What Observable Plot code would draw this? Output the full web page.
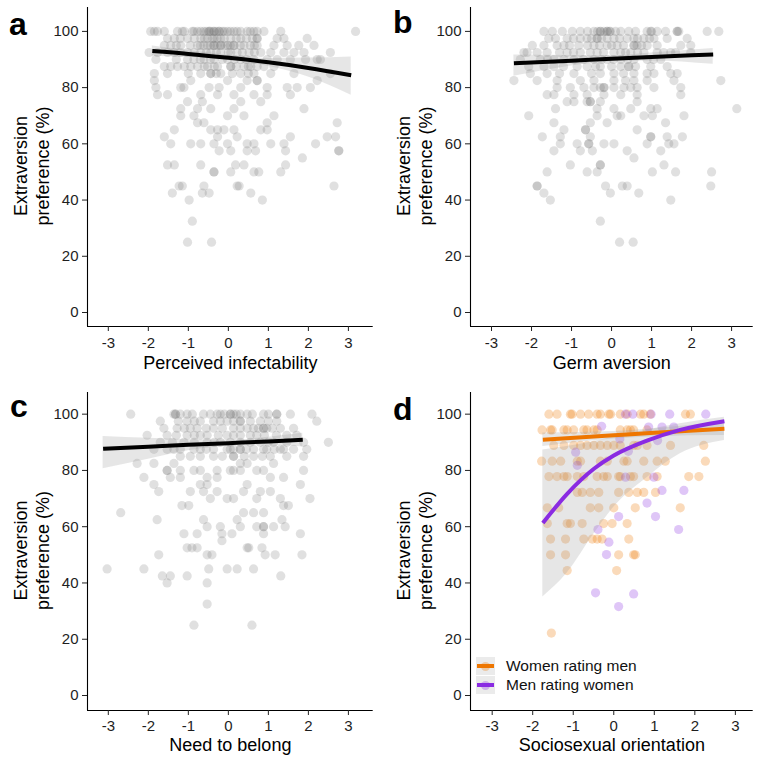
<!DOCTYPE html>
<html>
<head>
<meta charset="utf-8">
<script src="https://cdn.jsdelivr.net/npm/d3@7"></script>
<script src="https://cdn.jsdelivr.net/npm/@observablehq/plot@0.6"></script>
<style>
  html, body { margin: 0; padding: 0; background: #fff; }
  #fig { position: relative; width: 761px; height: 761px; background: #fff; font-family: "Liberation Sans", Arial, sans-serif; }
  .panel { position: absolute; }
  .tag { position: absolute; font-weight: bold; font-size: 32px; line-height: 32px; color: #000; }
  .legend { position: absolute; left: 476px; top: 656px; font-size: 15.5px; color: #111; }
  .legend .row { display: flex; align-items: center; height: 19.5px; }
  .legend .key { position: relative; width: 19px; height: 18px; background: #ebebeb; margin-right: 11px; }
  .legend .key .dot { position: absolute; left: 5px; top: 5px; width: 9px; height: 9px; border-radius: 50%; opacity: 0.3; }
  .legend .key .bar { position: absolute; left: 1px; right: 1px; top: 7px; height: 4px; }
</style>
</head>
<body>
<div id="fig">
  <div class="panel" id="pa" style="left:0;top:0"></div>
  <div class="panel" id="pb" style="left:380px;top:0"></div>
  <div class="panel" id="pc" style="left:0;top:380px"></div>
  <div class="panel" id="pd" style="left:380px;top:380px"></div>
  <div class="tag" style="left:9px;top:8px">a</div>
  <div class="tag" style="left:393px;top:6px">b</div>
  <div class="tag" style="left:10px;top:390px">c</div>
  <div class="tag" style="left:393px;top:393px">d</div>
  <div class="legend" id="legend"></div>
</div>
<script>
// Axis ticks shared by all four panels
const xTicks = [-3, -2, -1, 0, 1, 2, 3];
const yTicks = [0, 20, 40, 60, 80, 100];
const yTitle = "Extraversion\npreference (%)";

// Panel a: perceived infectability — rows of [preference %, trait scores]
const infectRows = [
  [100, [-1.94,-1.85,-1.77,-1.60,-1.27,-1.15,-1.10,-0.90,-0.86,-0.77,-0.69,-0.61,-0.55,-0.48,-0.48,-0.44,-0.36,-0.36,-0.30,-0.23,-0.23,-0.15,-0.10,-0.02,0.05,0.14,0.22,0.31,0.47,0.55,0.64,0.72,0.89,1.31,3.18]],
  [97.5, [-1.52,-1.35,-1.20,-1.02,-0.85,-0.69,-0.60,-0.52,-0.40,-0.36,-0.28,-0.19,-0.10,0.06,0.20,0.31,0.45,0.60,0.72,0.72,1.22,1.39,1.97]],
  [95, [-1.60,-1.44,-1.30,-1.19,-0.95,-0.77,-0.70,-0.61,-0.52,-0.45,-0.36,-0.36,-0.28,-0.19,-0.19,-0.08,-0.02,0.05,0.14,0.14,0.30,0.39,0.55,0.65,0.72,1.14,1.47,1.76,2.14]],
  [92.5, [-1.98,-1.77,-1.52,-1.35,-1.20,-1.02,-0.85,-0.69,-0.55,-0.44,-0.30,-0.19,0.00,0.06,0.22,0.35,0.52,0.65,0.81,1.06,1.39,1.64,1.89,2.55]],
  [90, [-1.81,-1.30,-1.02,-0.86,-0.70,-0.61,-0.45,-0.36,-0.15,-0.02,0.15,0.31,0.45,0.64,0.97,1.22,1.55,1.93,2.22,2.30]],
  [87.5, [-1.60,-1.44,-1.27,-1.10,-0.94,-0.77,-0.60,-0.52,-0.35,-0.27,0.06,0.06,0.20,0.39,0.50,0.56,0.72,0.89,1.14]],
  [85, [-1.85,-1.52,-1.00,-0.69,-0.44,-0.44,-0.30,-0.19,0.10,0.31,0.50,0.64,1.06,1.64,2.55]],
  [82.5, [-1.85,-0.94,-0.02,0.47,0.72,0.72,2.22]],
  [80, [-1.81,-1.19,-1.11,-0.48,-0.23,0.31,0.97,1.47,1.72,2.05]],
  [77.5, [-1.77,-1.52,-0.69,-0.27,0.14,0.64,0.97,1.55]],
  [75, [-1.02,-0.65,0.31,0.81]],
  [72.5, [-1.19,-0.77,-0.44,0.14,1.89]],
  [70, [-1.19,-0.86,-0.02,0.39,1.14]],
  [67.5, [-0.77,-0.61,0.97,2.72]],
  [65, [-1.35,-0.44,-0.27,-0.11,0.14,0.81,0.97]],
  [62.5, [-1.60,-0.27,0.22,1.55,2.47,2.68]],
  [60, [-1.44,-0.94,-0.69,-0.36,-0.02,0.47,0.64,1.06,1.39,2.18]],
  [57.5, [-0.23,0.06,0.47,0.68,1.43,2.76,2.76]],
  [55, [1.85]],
  [52.5, [-1.52,-1.35,-0.69,0.18,0.39,1.43]],
  [50, [-0.36,-0.36,0.06,0.64,0.76,1.31]],
  [45, [-1.23,-1.15,-0.61,0.22,0.27,2.64]],
  [42.5, [-1.40,-0.65,-0.48,0.56]],
  [40, [-0.98,0.85]],
  [32.5, [-0.90]],
  [25, [-1.02,-0.42]]
];
const infectFitX  = [-1.9, -1, 0, 1, 2, 3.07];
const infectFitY  = [93.0, 92.0, 90.6, 89.0, 87.0, 84.4];
const infectFitLo = [91.2, 90.8, 89.7, 87.6, 83.8, 77.3];
const infectFitHi = [94.8, 93.2, 91.5, 90.4, 90.5, 90.9];

// Panel b: germ aversion
const germRows = [
  [100, [-1.69,-1.48,-1.23,-0.98,-0.78,-0.60,-0.44,-0.35,-0.28,-0.28,-0.19,-0.11,-0.11,-0.05,-0.03,0.10,0.23,0.43,0.60,0.89,0.98,1.00,1.14,1.35,1.64,1.64,1.68,2.39,2.68]],
  [97.5, [-1.57,-1.40,-1.11,-0.95,-0.78,-0.61,-0.50,-0.36,-0.36,-0.25,-0.11,0.06,0.20,0.39,0.56,0.65,0.81,0.95,1.06,1.39,1.89]],
  [95, [-1.98,-1.69,-1.36,-1.19,-1.05,-0.82,-0.60,-0.44,-0.30,-0.11,0.00,0.14,0.30,0.56,0.56,0.64,0.75,0.89,1.14,1.73,1.98]],
  [92.5, [-2.19,-2.11,-1.86,-1.61,-1.30,-1.11,-0.95,-0.78,-0.53,-0.36,-0.20,0.06,0.23,0.35,0.48,0.65,0.81,1.14,1.30,1.48,1.60,1.98]],
  [90, [-2.28,-1.78,-1.60,-1.44,-1.19,-0.94,-0.70,-0.44,-0.25,-0.11,0.05,0.23,0.40,0.56,0.89,1.05,1.23]],
  [87.5, [-2.07,-1.69,-1.44,-1.20,-0.86,-0.61,-0.40,-0.28,0.00,0.23,0.43,0.43,0.60,0.98,1.39]],
  [85, [-2.03,-1.61,-1.30,-0.94,-0.50,-0.28,0.06,0.30,0.56,0.89,1.06,1.48,1.64]],
  [82.5, [-2.44,-1.86,-1.36,-0.78,-0.44,0.06,0.35,0.56,0.89,1.56,2.73]],
  [80, [-1.36,-1.03,-0.69,-0.44,-0.28,-0.19,-0.19,0.06,0.31,0.48,0.64,1.06,1.73]],
  [77.5, [-1.61,-1.44,-0.94,-0.61,-0.19,0.23,0.64,1.73]],
  [75, [-1.11,-0.94,-0.61,-0.53,-0.53,-0.28,0.64]],
  [72.5, [-1.40,-0.36,0.06,0.48,0.98,1.14,3.13]],
  [70, [-2.07,-0.36,0.14,0.23,0.81,1.02,1.81]],
  [67.5, [-1.44,-0.53,-0.11,1.35]],
  [65, [-1.19,-0.65,-0.65,0.64]],
  [62.5, [-1.73,-1.28,-0.53,0.98,0.98,1.39,1.77]],
  [60, [-1.28,-0.86,-0.57,-0.57,-0.19,0.06,0.89,1.43,1.56]],
  [57.5, [-1.44,-0.78,-0.48,0.39,1.23]],
  [55, [0.56]],
  [52.5, [-1.03,-0.28,-0.28,1.31]],
  [50, [-1.61,-0.61,-0.36,1.02,1.60,2.50]],
  [45, [-1.86,-1.86,-0.15,0.27,0.39,2.48]],
  [42.5, [-1.69,-0.03,0.68]],
  [40, [-1.53,1.48]],
  [32.5, [-0.28]],
  [25, [0.20,0.54]]
];
const germFitX  = [-2.44, -1, 0, 1, 2.54];
const germFitY  = [88.7, 89.6, 90.3, 90.9, 91.8];
const germFitLo = [84.0, 87.7, 89.2, 89.5, 88.3];
const germFitHi = [91.6, 91.4, 91.3, 92.3, 93.9];

// Panel c: need to belong
const belongRows = [
  [100, [-2.44,-1.36,-1.32,-1.32,-1.20,-1.03,-0.90,-0.62,-0.45,-0.28,-0.20,-0.10,0.05,0.05,0.13,0.20,0.30,0.47,0.60,0.88,1.00,1.21,1.21,1.55,2.09]],
  [97.5, [-1.70,-1.25,-1.03,-0.85,-0.70,-0.37,-0.20,-0.03,0.13,0.30,0.30,0.55,0.80,1.00,1.21,2.21]],
  [95, [-1.61,-1.28,-1.10,-0.95,-0.78,-0.55,-0.37,-0.15,0.13,0.30,0.47,0.63,0.75,0.88,0.88,0.96,1.10,1.30,1.63]],
  [92.5, [-2.03,-1.53,-1.30,-1.03,-0.85,-0.70,-0.53,-0.25,-0.03,0.13,0.30,0.55,0.71,0.90,1.20,1.46,1.71]],
  [90, [-1.70,-1.40,-1.11,-0.85,-0.53,-0.35,-0.20,0.05,0.30,0.55,0.80,1.00,1.13,1.46,1.88,2.50]],
  [87.5, [-1.86,-1.53,-1.36,-1.20,-0.86,-0.70,-0.55,-0.37,-0.03,0.05,0.13,0.30,0.30,0.45,0.63,0.88,0.96,1.15,1.30,1.38,1.63,1.96]],
  [85, [-1.20,-0.95,-0.70,-0.37,-0.15,0.13,0.13,0.40,0.63,0.85,1.05,1.46,1.88]],
  [82.5, [-2.28,-1.86,-1.36,0.30,0.47,1.13]],
  [80, [-1.53,-1.53,-1.20,-0.86,-0.70,-0.28,0.05,0.13,0.30,0.71,0.88,1.88]],
  [77.5, [-2.11,-1.45,-1.20,-0.53,-0.28,1.05,1.38]],
  [75, [-1.86,-0.70,-0.53,0.47,1.80]],
  [72.5, [-1.74,-0.95,-0.62,-0.28,0.38,0.80,1.05]],
  [70, [-0.45,-0.03,0.13,0.71,1.30,2.04]],
  [67.5, [-1.16,-0.99,1.38,1.50]],
  [65, [-2.69,0.38,0.63,0.88]],
  [62.5, [-1.78,-0.62,0.22,1.34]],
  [60, [-0.53,-0.20,0.30,0.71,0.88,0.88,1.13,1.42]],
  [57.5, [-1.11,-0.78,-0.16,0.09,0.88,1.80]],
  [55, [-0.16]],
  [52.5, [-1.03,-0.91,-0.78,0.47,0.51,0.84]],
  [50, [-1.74,-0.53,-0.41,0.92,1.17,1.84]],
  [45, [-3.03,-2.11,-0.49,-0.03,0.22,0.63]],
  [42.5, [-1.65,-1.45,-1.03,1.31]],
  [40, [-1.53,-0.53]],
  [32.5, [-0.53]],
  [25, [-0.86,0.59]]
];
const belongFitX  = [-3.13, -2, -1, 0, 1, 1.86];
const belongFitY  = [87.7, 88.4, 89.1, 89.7, 90.3, 90.9];
const belongFitLo = [80.6, 84.0, 87.0, 88.6, 89.0, 88.3];
const belongFitHi = [92.1, 91.4, 90.9, 90.8, 91.8, 93.2];

// Panel d: sociosexual orientation, split by rater group
const groups = ["Women rating men", "Men rating women"];
const groupColors = ["#EE7600", "#8A2BE2"];
const womenRows = [
  [100, [-1.60,-1.40,-1.07,-1.03,-0.82,-0.62,-0.41,-0.33,-0.12,-0.08,0.16,0.33,0.66,0.74,0.90,1.77,1.89]],
  [94.4, [-1.77,-1.56,-1.52,-1.23,-1.15,-0.99,-0.74,-0.66,-0.49,-0.41,0.16,0.33,0.41,0.49,0.82]],
  [88.9, [-1.48,-1.23,-0.99,-0.82,-0.66,-0.49,-0.33,-0.16,0.00,0.16,0.49,0.58,0.82,1.40,2.22]],
  [83.3, [-1.78,-1.52,-1.31,-0.90,-0.82,-0.33,-0.16,0.25,0.33,0.74,1.07,1.27,2.26]],
  [77.8, [-1.60,-1.40,-1.23,-1.15,-0.90,-0.74,-0.41,-0.25,-0.16,0.12,0.16,0.41,0.49,0.82,1.07,1.85,2.10]],
  [72.2, [-0.90,-0.78,-0.58,-0.37,0.12,0.37,0.58,0.74,1.03]],
  [66.7, [-1.64,-1.36,-0.58,-0.37,0.00,0.53,1.64]],
  [61.1, [-1.64,-1.15,-1.07,-0.78,-0.25,-0.04,0.33]],
  [55.6, [-1.56,-1.19,-0.74,-0.53,-0.41,-0.29,0.37]],
  [50, [-1.56,-1.19,0.12,0.49,0.53]],
  [44.4, [-1.15,0.07]],
  [22.2, [-1.54]]
];
const menX = [0.29,0.47,0.92,1.38,2.27,-0.30,0.86,1.19,1.48,0.15,1.08,-0.94,0.36,-0.90,0.29,0.99,1.19,1.73,0.82,0.12,1.03,-0.39,1.60,-0.12,-0.18,-0.45,0.49,0.12];
const menY = [100,100,100,100,100,95.7,95.4,95.4,95.4,91.2,90.6,86.5,86.8,81.8,77.6,77.6,72.9,72.9,68.4,63.6,63.6,59,59,54.5,50.1,36.5,36.1,31.6];
const womenFitX  = [-1.75, 0, 1, 2.73];
const womenFitY  = [90.9, 92.5, 93.4, 94.8];
const womenFitLo = [88.5, 91.2, 92.0, 92.4];
const womenFitHi = [93.3, 93.8, 94.8, 97.2];
const menFitX  = [-1.75, -1.15, -0.49, 0, 0.82, 1.64, 2.73];
const menFitY  = [61.3, 71.7, 80.6, 85.3, 90.6, 94.4, 97.5];
const menFitLo = [35.0, 43.5, 57.4, 66.9, 77.4, 85.9, 90.6];
const menFitHi = [87.3, 88.5, 90.3, 92.0, 94.4, 96.6, 98.9];

// Tables built from the arrays above
const fromRows = rows => rows.flatMap(([y, xs]) => xs.map(x => ({x, y})));
const fitTable = (xs, ys, lo, hi) => xs.map((x, i) => ({x, y: ys[i], lo: lo[i], hi: hi[i]}));

const font = `"Liberation Sans", Arial, Helvetica, sans-serif`;

function panel({xDomain, yDomain, top, bottom, height, left, padX, titleDy, xLabel, marks}) {
  return Plot.plot({
    width: 380,
    height,
    marginLeft: left,
    marginRight: 7.3,
    marginTop: top,
    marginBottom: bottom,
    style: {fontFamily: font, fontSize: "15px", color: "#1e1e1e", background: "transparent", overflow: "visible"},
    x: {domain: xDomain, label: null},
    y: {domain: yDomain, label: null},
    marks: [
      ...marks,
      Plot.ruleX([xDomain[0]], {stroke: "#000", strokeWidth: 1.1}),
      Plot.ruleY([yDomain[0]], {stroke: "#000", strokeWidth: 1.1}),
      Plot.axisX({ticks: xTicks, tickFormat: d => String(d), tickSize: 5, tickPadding: padX, label: null, stroke: "#222"}),
      Plot.axisY({ticks: yTicks, tickFormat: d => String(d), tickSize: 5, tickPadding: 4, label: null, stroke: "#222"}),
      Plot.text([xLabel], {text: d => d, frameAnchor: "bottom", lineAnchor: "middle", textAnchor: "middle", dy: titleDy, fontSize: 18, fill: "#000"}),
      Plot.text([yTitle], {text: d => d, frameAnchor: "left", textAnchor: "middle", lineAnchor: "middle", rotate: -90, dx: -57, dy: -1, fontSize: 18, lineHeight: 1.22, fill: "#000"})
    ]
  });
}

function greyMarks(rows, fit) {
  return [
    Plot.dot(fromRows(rows), {x: "x", y: "y", r: 4.6, fill: "#6e6e6e", fillOpacity: 0.21}),
    Plot.areaY(fit, {x: "x", y1: "lo", y2: "hi", fill: "#9a9a9a", fillOpacity: 0.25, curve: "monotone-x"}),
    Plot.line(fit, {x: "x", y: "y", stroke: "#000", strokeWidth: 4, strokeLinecap: "butt", curve: "monotone-x"})
  ];
}

const topY = [-4.98, 108.5];
const botY = [-5.33, 107.7];

document.getElementById("pa").append(panel({
  xDomain: [-3.52, 3.62], yDomain: topY, top: 7, bottom: 54, height: 380, left: 87, padX: 6, titleDy: 37,
  xLabel: "Perceived infectability",
  marks: greyMarks(infectRows, fitTable(infectFitX, infectFitY, infectFitLo, infectFitHi))
}));

document.getElementById("pb").append(panel({
  xDomain: [-3.525, 3.54], yDomain: topY, top: 7, bottom: 54, height: 380, left: 90, padX: 6, titleDy: 37,
  xLabel: "Germ aversion",
  marks: greyMarks(germRows, fitTable(germFitX, germFitY, germFitLo, germFitHi))
}));

document.getElementById("pc").append(panel({
  xDomain: [-3.52, 3.62], yDomain: botY, top: 12, bottom: 51, height: 381, left: 87, padX: 4.5, titleDy: 35,
  xLabel: "Need to belong",
  marks: greyMarks(belongRows, fitTable(belongFitX, belongFitY, belongFitLo, belongFitHi))
}));

const womenPts = fromRows(womenRows);
const menPts = menX.map((x, i) => ({x, y: menY[i]}));
const womenFit = fitTable(womenFitX, womenFitY, womenFitLo, womenFitHi);
const menFit = fitTable(menFitX, menFitY, menFitLo, menFitHi);

document.getElementById("pd").append(panel({
  xDomain: [-3.535, 3.44], yDomain: botY, top: 12, bottom: 51, height: 381, left: 90, padX: 4.5, titleDy: 35,
  xLabel: "Sociosexual orientation",
  marks: [
    Plot.dot(womenPts, {x: "x", y: "y", r: 4.6, fill: groupColors[0], fillOpacity: 0.27}),
    Plot.dot(menPts, {x: "x", y: "y", r: 4.6, fill: groupColors[1], fillOpacity: 0.27}),
    Plot.areaY(womenFit, {x: "x", y1: "lo", y2: "hi", fill: "#9a9a9a", fillOpacity: 0.25, curve: "monotone-x"}),
    Plot.areaY(menFit, {x: "x", y1: "lo", y2: "hi", fill: "#9a9a9a", fillOpacity: 0.25, curve: "monotone-x"}),
    Plot.line(womenFit, {x: "x", y: "y", stroke: groupColors[0], strokeWidth: 4, strokeLinecap: "butt", curve: "monotone-x"}),
    Plot.line(menFit, {x: "x", y: "y", stroke: groupColors[1], strokeWidth: 4, strokeLinecap: "butt", curve: "monotone-x"})
  ]
}));

// Legend for panel d
const legend = document.getElementById("legend");
groups.forEach((g, i) => {
  const row = document.createElement("div");
  row.className = "row";
  row.innerHTML = `<div class="key"><div class="dot" style="background:${groupColors[i]}"></div><div class="bar" style="background:${groupColors[i]}"></div></div><span>${g}</span>`;
  legend.append(row);
});
</script>
</body>
</html>
